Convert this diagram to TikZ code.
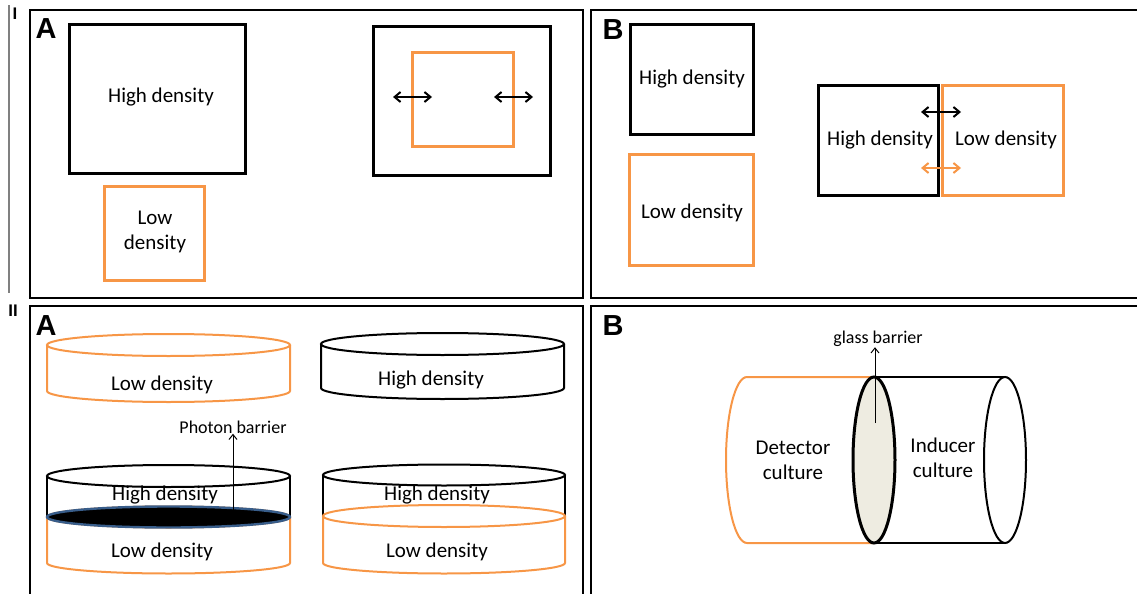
\documentclass[tikz,border=0pt]{standalone}
\usepackage{fontspec}
\setmainfont{Carlito}
\newfontfamily\labfont{Liberation Sans}
\usetikzlibrary{arrows.meta}
\definecolor{orng}{HTML}{F79646}
\definecolor{tan}{HTML}{EEECE1}
\definecolor{barblue}{HTML}{385D8A}
\definecolor{rulegray}{HTML}{808080}
\begin{document}
\begin{tikzpicture}[x=0.5pt,y=-0.5pt,
  panel/.style={draw, line width=1pt, inner sep=0pt},
  box/.style={draw, line width=1.5pt, inner sep=0pt},
  blk/.style={box, draw=black},
  org/.style={box, draw=orng},
  txt/.style={font=\fontsize{10.5pt}{12.5pt}\selectfont, inner sep=0pt, align=center},
  smalltxt/.style={font=\fontsize{9pt}{11pt}\selectfont, inner sep=0pt},
  plabel/.style={font=\labfont\bfseries\fontsize{14.5pt}{16pt}\selectfont, inner sep=0pt},
  romlabel/.style={font=\labfont\bfseries\fontsize{8.4pt}{10pt}\selectfont, inner sep=0pt},
  dbl/.style={{Straight Barb[length=3pt,width=5pt]}-{Straight Barb[length=3pt,width=5pt]}, line width=1pt},
  thinarrow/.style={-{Straight Barb[length=2.5pt,width=4pt]}, line width=0.5pt},
  cyl/.style={line width=1pt}
]
\useasboundingbox (0,0) rectangle (1137,594);
\clip (0,0) rectangle (1137,594);

% side rule and roman labels
\coordinate (ruletop) at (9,5);
\coordinate (rulebot) at (9,293);
\draw[rulegray, line width=0.75pt] (ruletop) -- (rulebot);
\node[romlabel] (romI) at (15,14) {I};
\node[romlabel] (romII) at (13,311) {II};

% panels
\node[panel, minimum width=276.5pt, minimum height=144pt] (pIA) at (306.5,154) {};
\node[panel, minimum width=277pt, minimum height=144pt] (pIB) at (868,154) {};
\node[panel, minimum width=276.5pt, minimum height=147pt] (pIIA) at (306.5,453) {};
\node[panel, minimum width=277pt, minimum height=147pt] (pIIB) at (868,453) {};

\node[plabel] (lIA) at (46,29) {A};
\node[plabel] (lIB) at (613,30) {B};
\node[plabel] (lIIA) at (46,326) {A};
\node[plabel] (lIIB) at (613,326) {B};

% ---------- Panel I-A ----------
\node[blk, minimum width=88pt, minimum height=74.5pt] (hdA) at (157,98.5) {};
\node[txt] (hdAt) at (161,97) {High density};
\node[org, minimum width=50pt, minimum height=47pt] (ldA) at (154,233) {};
\node[txt] (ldAt) at (155,232) {Low\\density};
\node[blk, minimum width=88.5pt, minimum height=74.5pt] (outerA) at (461.5,100.5) {};
\node[org, minimum width=50.5pt, minimum height=47pt] (innerA) at (462.5,99) {};
\coordinate (a1l) at (393,97); \coordinate (a1r) at (432,97);
\coordinate (a2l) at (494,97); \coordinate (a2r) at (533,97);
\draw[dbl] (a1l) -- (a1r);
\draw[dbl] (a2l) -- (a2r);

% ---------- Panel I-B ----------
\node[blk, minimum width=61.5pt, minimum height=55pt] (hdB) at (691.5,79) {};
\node[txt] (hdBt) at (692,79) {High density};
\node[org, minimum width=62pt, minimum height=55.5pt] (ldB) at (691,209.5) {};
\node[txt] (ldBt) at (692,213) {Low density};
\node[blk, minimum width=60pt, minimum height=55pt] (hd2) at (878,140) {};
\node[txt] (hd2t) at (880,140) {High density};
\node[org, minimum width=60.5pt, minimum height=55pt] (ld2) at (1002.5,140) {};
\node[txt] (ld2t) at (1006,140) {Low density};
\coordinate (b1l) at (921,112); \coordinate (b1r) at (961,112);
\coordinate (b2l) at (921,168); \coordinate (b2r) at (961,168);
\draw[dbl] (b1l) -- (b1r);
\draw[dbl, orng] (b2l) -- (b2r);

% ---------- Panel II-A ----------
% top-left: orange cylinder
\draw[orng, cyl] (168.5,345) ellipse[x radius=121.5, y radius=11];
\draw[orng, cyl] (47,345) -- (47,391) arc[start angle=180, end angle=0, x radius=121.5, y radius=11] -- (290,345);
\node[txt] (c1) at (162,385) {Low density};
% top-right: black cylinder
\draw[cyl] (442.5,344) ellipse[x radius=121.5, y radius=11];
\draw[cyl] (321,344) -- (321,388) arc[start angle=180, end angle=0, x radius=121.5, y radius=11] -- (564,344);
\node[txt] (c2) at (431,380) {High density};
% bottom-left: stacked with photon barrier
\draw[orng, cyl] (168.5,517) ellipse[x radius=121.5, y radius=10.5];
\draw[orng, cyl] (47,517) -- (47,563) arc[start angle=180, end angle=0, x radius=121.5, y radius=10.5] -- (290,517);
\draw[cyl] (47,517) -- (47,476);
\draw[cyl] (290,517) -- (290,476);
\draw[cyl] (168.5,476) ellipse[x radius=121.5, y radius=11];
\node[txt] (c3h) at (165,495) {High density};
\draw[barblue, fill=black, line width=1.2pt] (168.5,517) ellipse[x radius=121.5, y radius=10.5];
\coordinate (pb) at (233,510);
\node[smalltxt] (pbl) at (233,427) {Photon barrier};
\draw[thinarrow] (pb) -- (pbl.south -| pb);
\node[txt] (c3l) at (162,552) {Low density};
% bottom-right: stacked without barrier
\draw[cyl] (323,516) -- (323,475);
\draw[cyl] (565,516) -- (565,475);
\draw[cyl] (444,475) ellipse[x radius=121, y radius=10.5];
\node[txt] (c4h) at (437,495) {High density};
\draw[orng, cyl] (444,516) ellipse[x radius=121, y radius=11];
\draw[orng, cyl] (323,516) -- (323,563) arc[start angle=180, end angle=0, x radius=121, y radius=10.5] -- (565,516);
\node[txt] (c4l) at (437,552) {Low density};

% ---------- Panel II-B ----------
\draw[orng, cyl] (874,377) -- (747,377) arc[start angle=270, end angle=90, x radius=21, y radius=83] -- (874,543);
\draw[cyl] (874,377) -- (1005,377);
\draw[cyl] (874,543) -- (1005,543);
\draw[cyl] (1005,460) ellipse[x radius=21, y radius=83];
\draw[fill=tan, line width=1.5pt] (874,460) ellipse[x radius=21, y radius=83];
\coordinate (gb) at (875,423);
\node[smalltxt] (gbl) at (878,339) {glass barrier};
\draw[thinarrow] (gb) -- (gb |- gbl.south);
\node[txt] (det) at (793,460) {Detector\\culture};
\node[txt] (ind) at (943,458) {Inducer\\culture};
\end{tikzpicture}
\end{document}
